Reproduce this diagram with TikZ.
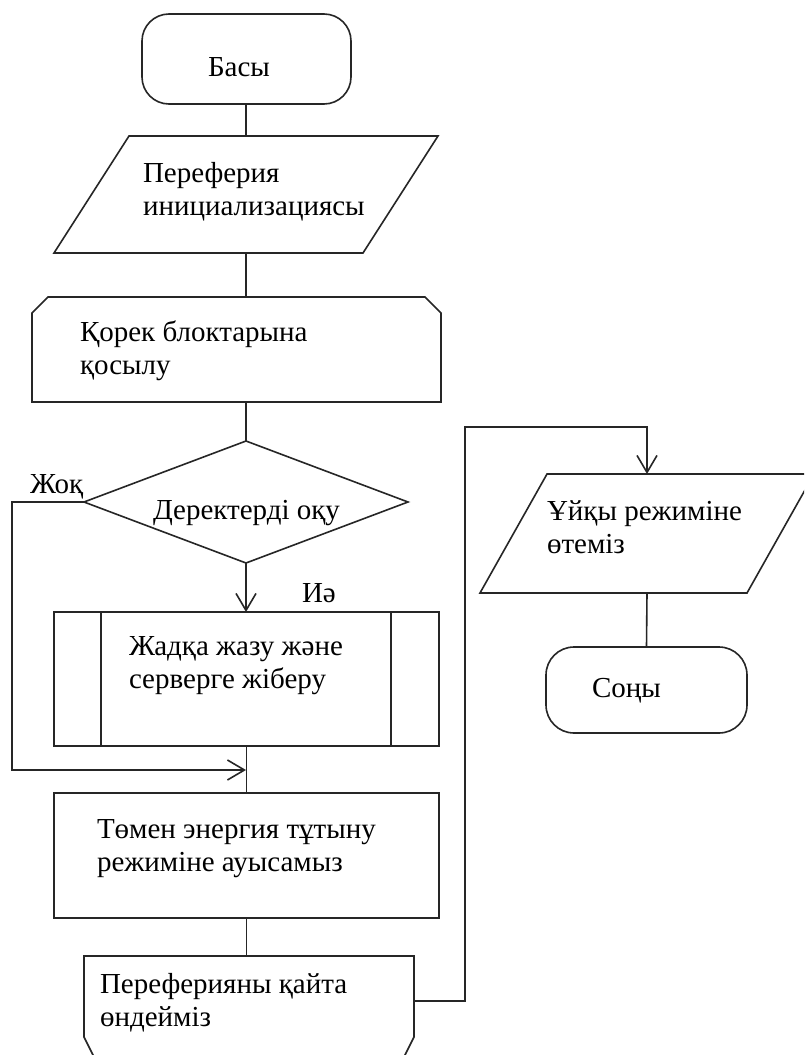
\documentclass[tikz,border=0pt]{standalone}
\usepackage{fontspec}
\setmainfont{Liberation Serif}
\usetikzlibrary{arrows.meta,shapes.geometric,calc}
\begin{document}
\begin{tikzpicture}[x=1pt,y=-1pt,
  every node/.style={inner sep=0pt, outer sep=0pt},
  ln/.style={draw=black!85, line width=1.6pt},
  box/.style={rectangle, draw=black!85, line width=1.6pt},
  frame/.style={rectangle, draw=none},
  term/.style={rectangle, rounded corners=27pt, draw=black!85, line width=1.6pt},
  dec/.style={diamond, draw=black!85, line width=1.6pt, aspect=2.66},
  txt/.style={anchor=base west, font=\fontsize{29}{33}\selectfont, text=black},
  arr/.style={ln, -{Straight Barb[length=17pt,width=20pt]}},
]
\useasboundingbox (0,0) rectangle (804,1055);
\fill[white] (0,0) rectangle (804,1055);
\clip (0,0) rectangle (804,1055);

% shapes
\node[term, minimum width=209pt, minimum height=90pt] (start) at (246.5,59) {};
\node[frame, minimum width=384pt, minimum height=117pt] (para) at (246,194.5) {};
\draw[ln] (para.south west) -- ($(para.north west)+(75,0)$) -- (para.north east) -- ($(para.south east)+(-75,0)$) -- cycle;
\node[frame, minimum width=409pt, minimum height=105pt] (corek) at (236.5,349.5) {};
\draw[ln] (corek.south west) -- ($(corek.north west)+(0,16)$) -- ($(corek.north west)+(16,0)$) -- ($(corek.north east)+(-16,0)$) -- ($(corek.north east)+(0,16)$) -- (corek.south east) -- cycle;
\node[dec, minimum width=324pt, minimum height=122pt] (dec) at (246,502) {};
\node[box, minimum width=385pt, minimum height=134pt] (proc) at (246.5,679) {};
\draw[ln] ($(proc.north west)+(47,0)$) -- ($(proc.south west)+(47,0)$);
\draw[ln] ($(proc.north east)+(-48,0)$) -- ($(proc.south east)+(-48,0)$);
\node[box, minimum width=385pt, minimum height=125pt] (energy) at (246.5,855.5) {};
\node[frame, minimum width=330pt, minimum height=90pt] (last) at (249,1001) {};
\draw[ln] (last.north west) -- (last.north east) -- ($(last.south east)+(0,-9)$) -- ($(last.south east)+(-16,23)$) -- ($(last.south west)+(16,23)$) -- ($(last.south west)+(0,-9)$) -- cycle;
\node[frame, minimum width=334pt, minimum height=119pt] (sleep) at (647,533.5) {};
\draw[ln] (sleep.south west) -- ($(sleep.north west)+(67,0)$) -- (sleep.north east) -- ($(sleep.south east)+(-67,0)$) -- cycle;
\node[term, rounded corners=28pt, minimum width=201pt, minimum height=86pt] (stop) at (646.5,690) {};

% texts
\node[txt] (tstart) at (208,76) {Басы};
\node[txt] (tpara) at (143,182) {\parbox[t]{300pt}{Переферия\\инициализациясы}};
\node[txt] (tcorek) at (80,341) {\parbox[t]{340pt}{Қорек блоктарына\\қосылу}};
\node[txt] (tdec) at (153,519) {Деректерді оқу};
\node[txt] (tno) at (30,493) {Жоқ};
\node[txt] (tyes) at (302,602) {Иә};
\node[txt] (tproc) at (129,655) {\parbox[t]{260pt}{Жадқа жазу және\\серверге жіберу}};
\node[txt] (tenergy) at (97,838) {\parbox[t]{330pt}{Төмен энергия тұтыну\\режиміне ауысамыз}};
\node[txt] (tlast) at (100,993) {\parbox[t]{300pt}{Переферияны қайта\\өндейміз}};
\node[txt] (tsleep) at (547,520) {\parbox[t]{250pt}{Ұйқы режиміне\\өтеміз}};
\node[txt] (tstop) at (592,697) {Соңы};

% connectors
\coordinate (join) at (246,770);
\coordinate (turn) at (647,427);
\draw[ln] (start.south) -- (para.south |- start.south) -- (para.north);
\draw[ln] (para.south) -- (para.south |- corek.north);
\draw[ln] (dec.north |- corek.south) -- (dec.north);
\draw[arr] (dec.south) -- (dec.south |- proc.north);
\draw[arr] (dec.west) -- ++(-72,0) |- (join);
\draw[ln] (proc.south) -- (proc.south |- energy.north);
\draw[ln] (energy.south) -- (energy.south |- last.north);
\draw[arr] (last.east) -- ++(51,0) |- (turn) -- (sleep.north);
\draw[ln] (sleep.south) -- (stop.north);
\end{tikzpicture}
\end{document}
